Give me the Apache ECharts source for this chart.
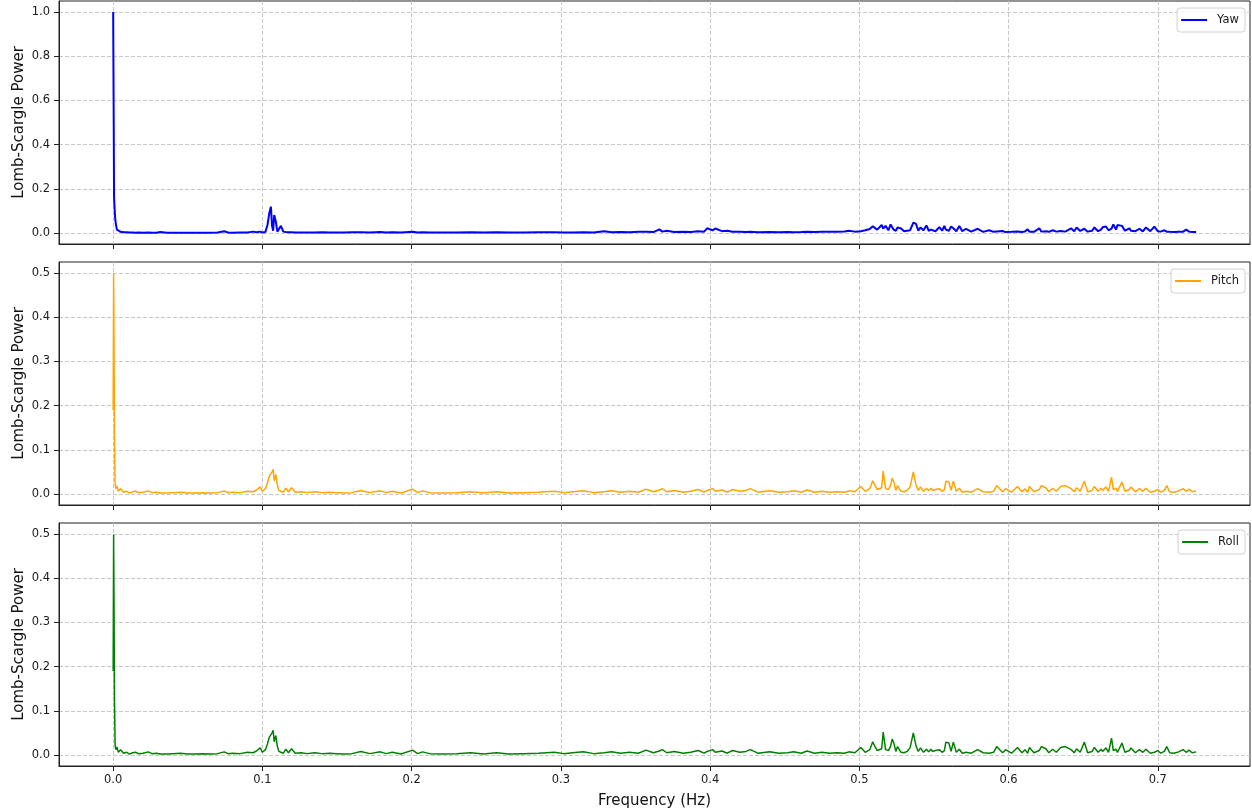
<!DOCTYPE html>
<html><head><meta charset="utf-8">
<script src="https://cdn.jsdelivr.net/npm/echarts@6/dist/echarts.min.js"></script>
<style>html,body{margin:0;padding:0;background:#fff}#chart{width:1252px;height:810px}</style>
</head><body><div id="chart"></div>
<script>
const freqHz = [
0.0000,0.0003,0.0006,0.0009,0.0013,0.0018,0.0025,0.0035,0.0050,0.0070,
0.0090,0.0110,0.0130,0.0150,0.0170,0.0200,0.0235,0.0260,0.0290,0.0315,
0.0326,0.0360,0.0400,0.0450,0.0500,0.0550,0.0600,0.0650,0.0700,0.0744,
0.0770,0.0800,0.0850,0.0900,0.0938,0.0960,0.0985,0.1000,0.1020,0.1034,
0.1046,0.1057,0.1065,0.1072,0.1079,0.1090,0.1100,0.1110,0.1124,0.1140,
0.1157,0.1175,0.1195,0.1220,0.1260,0.1300,0.1350,0.1400,0.1450,0.1500,
0.1550,0.1600,0.1660,0.1720,0.1790,0.1830,0.1870,0.1930,0.2006,0.2040,
0.2073,0.2120,0.2200,0.2300,0.2397,0.2480,0.2570,0.2650,0.2750,0.2850,
0.2956,0.3020,0.3080,0.3150,0.3220,0.3290,0.3340,0.3400,0.3460,0.3520,
0.3570,0.3620,0.3660,0.3680,0.3710,0.3760,0.3820,0.3870,0.3920,0.3960,
0.3980,0.4017,0.4035,0.4080,0.4115,0.4150,0.4200,0.4240,0.4270,0.4320,
0.4400,0.4460,0.4520,0.4560,0.4610,0.4650,0.4700,0.4750,0.4800,0.4850,
0.4900,0.4930,0.4970,0.5010,0.5040,0.5070,0.5090,0.5100,0.5120,0.5150,
0.5160,0.5176,0.5195,0.5210,0.5220,0.5230,0.5245,0.5256,0.5280,0.5300,
0.5320,0.5340,0.5362,0.5380,0.5395,0.5410,0.5430,0.5450,0.5465,0.5480,
0.5490,0.5510,0.5536,0.5555,0.5570,0.5580,0.5600,0.5615,0.5630,0.5650,
0.5670,0.5690,0.5715,0.5750,0.5793,0.5830,0.5870,0.5900,0.5920,0.5960,
0.5980,0.6020,0.6060,0.6090,0.6110,0.6128,0.6140,0.6170,0.6206,0.6220,
0.6250,0.6270,0.6296,0.6320,0.6350,0.6380,0.6419,0.6440,0.6456,0.6480,
0.6508,0.6530,0.6560,0.6575,0.6600,0.6620,0.6630,0.6653,0.6670,0.6690,
0.6702,0.6720,0.6730,0.6760,0.6780,0.6810,0.6820,0.6850,0.6877,0.6900,
0.6921,0.6950,0.6977,0.7000,0.7020,0.7044,0.7060,0.7080,0.7110,0.7140,
0.7170,0.7190,0.7210,0.7230,0.7257
];
const powerYaw = [
1.000,0.600,0.160,0.155,0.070,0.040,0.015,0.008,0.005,0.003,
0.003,0.002,0.002,0.001,0.002,0.001,0.002,0.001,0.001,0.004,
0.001,0.001,0.001,0.001,0.001,0.001,0.001,0.001,0.002,0.008,
0.002,0.001,0.002,0.002,0.006,0.003,0.006,0.002,0.004,0.036,
0.089,0.119,0.030,0.010,0.081,0.051,0.006,0.004,0.032,0.006,
0.004,0.003,0.003,0.002,0.002,0.002,0.002,0.003,0.002,0.002,
0.002,0.003,0.003,0.002,0.004,0.002,0.003,0.002,0.005,0.002,
0.003,0.002,0.002,0.002,0.003,0.002,0.003,0.002,0.002,0.003,
0.003,0.002,0.002,0.003,0.002,0.008,0.003,0.004,0.003,0.005,
0.006,0.004,0.016,0.006,0.010,0.004,0.006,0.004,0.008,0.006,
0.021,0.012,0.020,0.008,0.010,0.005,0.006,0.004,0.005,0.003,
0.004,0.003,0.004,0.003,0.004,0.005,0.004,0.005,0.006,0.005,
0.007,0.010,0.006,0.008,0.012,0.018,0.030,0.039,0.015,0.036,
0.020,0.032,0.012,0.039,0.026,0.015,0.010,0.025,0.020,0.008,
0.010,0.012,0.047,0.041,0.010,0.025,0.012,0.034,0.010,0.015,
0.019,0.008,0.026,0.010,0.032,0.015,0.010,0.029,0.021,0.008,
0.032,0.008,0.019,0.006,0.019,0.005,0.012,0.005,0.007,0.009,
0.004,0.005,0.007,0.004,0.007,0.016,0.006,0.005,0.021,0.006,
0.008,0.005,0.012,0.006,0.009,0.006,0.021,0.008,0.025,0.009,
0.019,0.006,0.010,0.025,0.008,0.015,0.026,0.029,0.012,0.020,
0.039,0.015,0.036,0.032,0.010,0.021,0.010,0.008,0.019,0.007,
0.025,0.008,0.029,0.008,0.006,0.012,0.006,0.005,0.004,0.005,
0.006,0.015,0.006,0.004,0.004
];
const powerPitch = [
0.190,0.499,0.330,0.120,0.022,0.012,0.018,0.006,0.012,0.004,
0.006,0.002,0.005,0.006,0.003,0.004,0.007,0.003,0.004,0.002,
0.006,0.002,0.003,0.004,0.002,0.002,0.003,0.002,0.003,0.007,
0.003,0.004,0.003,0.006,0.005,0.009,0.016,0.006,0.012,0.025,
0.040,0.039,0.050,0.056,0.030,0.044,0.020,0.008,0.006,0.004,
0.013,0.005,0.014,0.004,0.005,0.003,0.005,0.003,0.004,0.003,
0.002,0.003,0.008,0.003,0.007,0.003,0.006,0.002,0.011,0.003,
0.007,0.003,0.002,0.003,0.005,0.002,0.005,0.002,0.003,0.004,
0.006,0.003,0.005,0.007,0.003,0.005,0.007,0.004,0.006,0.004,
0.011,0.005,0.009,0.012,0.005,0.008,0.004,0.006,0.010,0.004,
0.008,0.012,0.006,0.009,0.004,0.010,0.006,0.008,0.012,0.004,
0.007,0.004,0.005,0.007,0.004,0.009,0.004,0.006,0.004,0.005,
0.004,0.007,0.005,0.017,0.006,0.012,0.030,0.022,0.010,0.014,
0.052,0.012,0.010,0.020,0.036,0.028,0.008,0.019,0.006,0.005,
0.008,0.016,0.050,0.020,0.008,0.016,0.006,0.013,0.007,0.013,
0.008,0.010,0.012,0.006,0.010,0.029,0.027,0.008,0.029,0.006,
0.013,0.004,0.006,0.004,0.012,0.005,0.004,0.006,0.019,0.005,
0.012,0.004,0.017,0.005,0.012,0.004,0.017,0.005,0.010,0.019,
0.014,0.005,0.013,0.006,0.017,0.019,0.012,0.005,0.014,0.006,
0.029,0.005,0.008,0.017,0.006,0.013,0.008,0.016,0.006,0.038,
0.010,0.013,0.006,0.027,0.006,0.010,0.016,0.005,0.012,0.006,
0.013,0.004,0.006,0.010,0.004,0.008,0.019,0.005,0.004,0.007,
0.012,0.006,0.011,0.005,0.007
];
const powerRoll = [
0.190,0.499,0.330,0.120,0.022,0.012,0.018,0.006,0.012,0.004,
0.006,0.002,0.005,0.006,0.003,0.004,0.007,0.003,0.004,0.002,
0.006,0.002,0.003,0.004,0.002,0.002,0.003,0.002,0.003,0.007,
0.003,0.004,0.003,0.006,0.005,0.009,0.016,0.006,0.012,0.025,
0.040,0.039,0.050,0.056,0.030,0.044,0.020,0.008,0.006,0.004,
0.013,0.005,0.014,0.004,0.005,0.003,0.005,0.003,0.004,0.003,
0.002,0.003,0.008,0.003,0.007,0.003,0.006,0.002,0.011,0.003,
0.007,0.003,0.002,0.003,0.005,0.002,0.005,0.002,0.003,0.004,
0.006,0.003,0.005,0.007,0.003,0.005,0.007,0.004,0.006,0.004,
0.011,0.005,0.009,0.012,0.005,0.008,0.004,0.006,0.010,0.004,
0.008,0.012,0.006,0.009,0.004,0.010,0.006,0.008,0.012,0.004,
0.007,0.004,0.005,0.007,0.004,0.009,0.004,0.006,0.004,0.005,
0.004,0.007,0.005,0.017,0.006,0.012,0.030,0.022,0.010,0.014,
0.052,0.012,0.010,0.020,0.036,0.028,0.008,0.019,0.006,0.005,
0.008,0.016,0.050,0.020,0.008,0.016,0.006,0.013,0.007,0.013,
0.008,0.010,0.012,0.006,0.010,0.029,0.027,0.008,0.029,0.006,
0.013,0.004,0.006,0.004,0.012,0.005,0.004,0.006,0.019,0.005,
0.012,0.004,0.017,0.005,0.012,0.004,0.017,0.005,0.010,0.019,
0.014,0.005,0.013,0.006,0.017,0.019,0.012,0.005,0.014,0.006,
0.029,0.005,0.008,0.017,0.006,0.013,0.008,0.016,0.006,0.038,
0.010,0.013,0.006,0.027,0.006,0.010,0.016,0.005,0.012,0.006,
0.013,0.004,0.006,0.010,0.004,0.008,0.019,0.005,0.004,0.007,
0.012,0.006,0.011,0.005,0.007
];
const seriesNames = ['Yaw', 'Pitch', 'Roll'];
const seriesColors = ['#0000ff', '#ffa500', '#008000'];
const xTickValues = [0.0, 0.1, 0.2, 0.3, 0.4, 0.5, 0.6, 0.7];
const yTicksYaw = [0.0, 0.2, 0.4, 0.6, 0.8, 1.0];
const yTicksPitchRoll = [0.0, 0.1, 0.2, 0.3, 0.4, 0.5];
const xLabel = 'Frequency (Hz)';
const yLabel = 'Lomb-Scargle Power';

const FONT = 'DejaVu Sans';
const allPower = [powerYaw, powerPitch, powerRoll];
const yTickSets = [yTicksYaw, yTicksPitchRoll, yTicksPitchRoll];
const yRanges = [[-0.05, 1.05], [-0.025, 0.525], [-0.025, 0.525]];
const gridTops = [1, 262, 523];
const legendTops = [8, 269, 530];
const gridLineStyle = { color: '#c8c8c8', width: 1, type: [4, 2] };

const grids = [], xAxes = [], yAxes = [], series = [], legends = [];
for (let i = 0; i < 3; i++) {
  grids.push({ left: 59, right: 2, top: gridTops[i], height: 243, show: true,
    containLabel: false, outerBoundsMode: 'none',
    borderColor: '#222', borderWidth: 1, backgroundColor: 'transparent' });
  const isBottom = i === 2;
  xAxes.push({
    type: 'value', gridIndex: i, min: -0.0363, max: 0.7618,
    name: isBottom ? xLabel : '', nameLocation: 'middle', nameGap: 28,
    nameTextStyle: { fontFamily: FONT, fontSize: 15, color: '#111' },
    axisLine: { show: true, onZero: false, lineStyle: { color: '#222', width: 1 } },
    axisTick: { show: true, customValues: xTickValues, length: 5, lineStyle: { color: '#222', width: 1 } },
    axisLabel: { show: isBottom, customValues: xTickValues, margin: 8, fontFamily: FONT, fontSize: 11.5, color: '#1a1a1a',
      formatter: v => v.toFixed(1) },
    splitLine: { show: true, lineStyle: gridLineStyle }
  });
  yAxes.push({
    type: 'value', gridIndex: i, min: yRanges[i][0], max: yRanges[i][1],
    name: yLabel, nameLocation: 'middle', nameRotate: 90, nameGap: 32, nameMoveOverlap: false,
    nameTextStyle: { fontFamily: FONT, fontSize: 15, color: '#111' },
    axisLine: { show: true, onZero: false, lineStyle: { color: '#222', width: 1 } },
    axisTick: { show: true, customValues: yTickSets[i], length: 5, lineStyle: { color: '#222', width: 1 } },
    axisLabel: { show: true, customValues: yTickSets[i], margin: 9, fontFamily: FONT, fontSize: 11.5, color: '#1a1a1a',
      formatter: v => v.toFixed(1) },
    splitLine: { show: true, lineStyle: gridLineStyle }
  });
  series.push({
    name: seriesNames[i], type: 'line', xAxisIndex: i, yAxisIndex: i,
    data: freqHz.map((f, k) => [f, allPower[i][k]]),
    showSymbol: false, symbol: 'none', clip: true,
    lineStyle: { color: seriesColors[i], width: i === 0 ? 2 : 1.5 },
    itemStyle: { color: seriesColors[i] },
    emphasis: { disabled: true }
  });
  legends.push({
    data: [seriesNames[i]], top: legendTops[i], right: 7, icon: 'rect',
    itemWidth: 26, itemHeight: 2, padding: [6, 6, 6, 4],
    borderColor: '#d0d0d0', borderWidth: 1, borderRadius: 3,
    backgroundColor: 'rgba(255,255,255,0.85)', selectedMode: false,
    textStyle: { fontFamily: FONT, fontSize: 11.5, color: '#1a1a1a', padding: [0, 0, 0, 5] }
  });
}

const chart = echarts.init(document.getElementById('chart'), null, { renderer: 'canvas' });
chart.setOption({
  animation: false,
  backgroundColor: '#ffffff',
  grid: grids, xAxis: xAxes, yAxis: yAxes, series: series, legend: legends
});
</script></body></html>
